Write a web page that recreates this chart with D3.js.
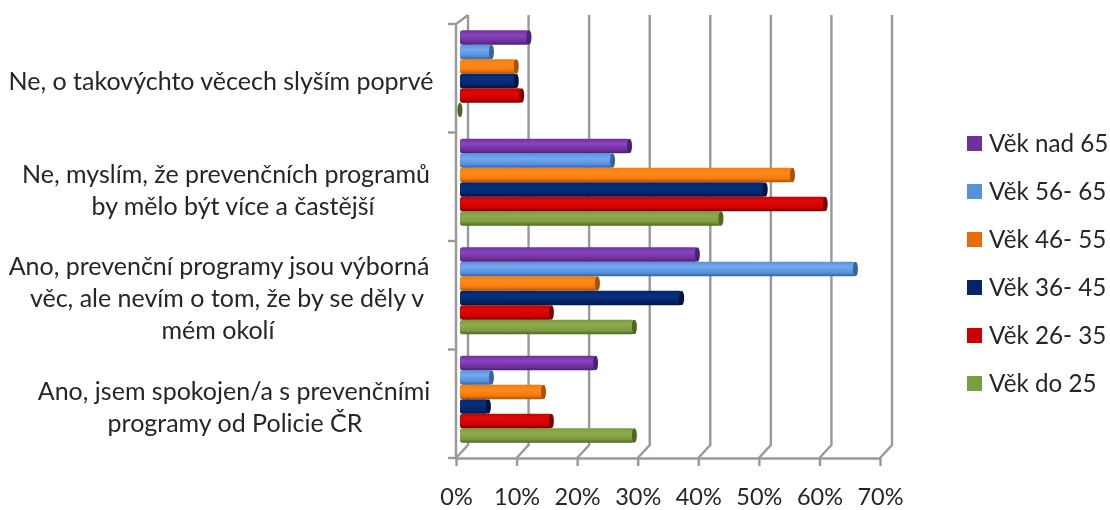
<!DOCTYPE html>
<html>
<head>
<meta charset="utf-8">
<script src="https://cdn.jsdelivr.net/npm/d3@7/dist/d3.min.js"></script>
<style>
  html, body { margin: 0; background: #fff; }
  svg { display: block; filter: blur(0.45px); }
  text { font-family: Lato, "Open Sans", sans-serif; fill: #262626; }
</style>
</head>
<body>
<svg id="chart" width="1110" height="510"></svg>
<script>
// categories, top to bottom, already broken into lines
const categories = ['q4', 'q3', 'q2', 'q1'];
const categoryLines = [
    ['Ne, o takovýchto věcech slyším poprvé'],
    ['Ne, myslím, že prevenčních programů', 'by mělo být více a častější'],
    ['Ano, prevenční programy jsou výborná', 'věc, ale nevím o tom, že by se děly v', 'mém okolí'],
    ['Ano, jsem spokojen/a s prevenčními', 'programy od Policie ČR'],
];

// series, top to bottom inside each category (values in %)
const seriesNames = ['Věk nad 65', 'Věk 56- 65', 'Věk 46- 55', 'Věk 36- 45', 'Věk 26- 35', 'Věk do 25'];
const vekNad65 = [11.8, 28.4, 39.6, 22.8];
const vek5665 = [5.6, 25.6, 65.7, 5.6];
const vek4655 = [9.7, 55.3, 23.1, 14.2];
const vek3645 = [9.7, 50.8, 37.0, 5.1];
const vek2635 = [10.6, 60.7, 15.5, 15.5];
const vekDo25 = [0.4, 43.5, 29.2, 29.2];
const seriesValues = [vekNad65, vek5665, vek4655, vek3645, vek2635, vekDo25];

const xTicks = [0, 10, 20, 30, 40, 50, 60, 70];

// barva: light, main, dark, legend
const colors = [
    ['#8a45c0', '#7030a0', '#4a2270', '#7030a0'],
    ['#74aaf0', '#5691dc', '#34659c', '#5691dc'],
    ['#ff8a1c', '#f57a0c', '#a85208', '#e96c0c'],
    ['#0a3080', '#03246b', '#011340', '#03246b'],
    ['#e00808', '#cc0000', '#7d0000', '#cc0000'],
    ['#8cac4e', '#7c9c40', '#4d6624', '#7c9c40'],
];

const width = 1110, height = 510;
const margin = { top: 24, right: 230, bottom: 52, left: 456 };
const depthX = 12, depthY = 13; // hloubka 3D steny

const svg = d3.select('#chart');
const defs = svg.append('defs');

const x = d3.scaleLinear().domain([0, 70]).range([margin.left, width - margin.right + 0]);
const y = d3.scaleBand().domain(categories).range([margin.top, height - margin.bottom]);
const yInner = d3.scaleBand().domain(d3.range(seriesNames.length)).range([0, 87]);

// gradienty pro valce
colors.forEach((c, i) => {
    const g = defs.append('linearGradient').attr('id', `cyl${i}`)
        .attr('x1', 0).attr('x2', 0).attr('y1', 0).attr('y2', 1);
    g.append('stop').attr('offset', '0%').attr('stop-color', c[1]);
    g.append('stop').attr('offset', '35%').attr('stop-color', c[0]);
    g.append('stop').attr('offset', '75%').attr('stop-color', c[1]);
    g.append('stop').attr('offset', '100%').attr('stop-color', c[2]);
});

// zadni stena a podlaha
const wall = svg.append('g').attr('fill', 'none').attr('stroke', '#999').attr('stroke-width', 2.4);
wall.selectAll('path')
    .data(xTicks)
    .join('path')
    .attr('d', (d) => {
        const x0 = x(d);
        const yb = height - margin.bottom;
        return `M${x0},${yb}L${x0 + depthX},${yb - depthY}L${x0 + depthX},${margin.top - 9}`;
    });

// levy sloupek s tiky
const boundaries = categories.map((c) => y(c)).concat(height - margin.bottom);
wall.append('path')
    .attr('d', `M${x(0)},${height - margin.bottom}L${x(0)},${margin.top}L${x(0) + depthX},${margin.top - 9}`);
wall.selectAll('line.tick')
    .data(boundaries)
    .join('line')
    .attr('class', 'tick')
    .attr('x1', x(0) - 8)
    .attr('x2', x(0))
    .attr('y1', (d) => d)
    .attr('y2', (d) => d);

// osa X
const xAxis = d3.axisBottom(x)
    .tickValues(xTicks)
    .tickFormat((d) => `${d}%`)
    .tickSize(8)
    .tickPadding(22)
    .tickSizeOuter(0);
const xg = svg.append('g')
    .attr('transform', `translate(0,${height - margin.bottom})`)
    .call(xAxis);
xg.select('.domain').attr('stroke', '#999').attr('stroke-width', 2.4);
xg.selectAll('.tick line').attr('stroke', '#999').attr('stroke-width', 2.4);
xg.selectAll('.tick text').attr('font-size', 23.5).attr('fill', '#262626');

// valce
const barOffsetX = 4, barOffsetY = -9, capRx = 2.5;
const groups = svg.selectAll('g.cat')
    .data(categories)
    .join('g')
    .attr('class', 'cat')
    .attr('transform', (d) => `translate(0,${y(d) + (y.bandwidth() - 87) / 2 + barOffsetY + 4.5})`);

seriesValues.slice().reverse().forEach((values, ri) => {
    const i = seriesNames.length - 1 - ri;
    groups.each(function (c, ci) {
        const v = values[ci];
        const g = d3.select(this).append('g');
        const x1 = x(v) + barOffsetX - capRx;
        const top = yInner(i), h = yInner.bandwidth();
        g.append('rect')
            .attr('x', x(0) + barOffsetX)
            .attr('y', top)
            .attr('width', Math.max(x1 - x(0) - barOffsetX, 0))
            .attr('height', h)
            .attr('rx', 2.5)
            .attr('fill', `url(#cyl${i})`);
        g.append('ellipse')
            .attr('cx', x1)
            .attr('cy', top + h / 2)
            .attr('rx', capRx)
            .attr('ry', h / 2)
            .attr('fill', colors[i][2]);
    });
});

// popisky kategorii
const labelCenters = [[221], [226, 233], [219, 227, 218], [234, 235]];
const lineHeight = 32;
svg.selectAll('g.label')
    .data(categories)
    .join('g')
    .attr('class', 'label')
    .each(function (c, ci) {
        const lines = categoryLines[ci];
        const yc = y(c) + y.bandwidth() / 2 + 3;
        d3.select(this).selectAll('text')
            .data(lines)
            .join('text')
            .attr('x', (d, i) => labelCenters[ci][i])
            .attr('y', (d, i) => yc + (i - (lines.length - 1) / 2) * lineHeight)
            .attr('dy', '0.35em')
            .attr('text-anchor', 'middle')
            .attr('font-size', 25)
            .text((d) => d);
    });

// legenda
const legendY = d3.scalePoint().domain(seriesNames).range([144, 384]);
const legend = svg.selectAll('g.legend')
    .data(seriesNames)
    .join('g')
    .attr('class', 'legend')
    .attr('transform', (d) => `translate(967,${legendY(d)})`);
legend.append('rect')
    .attr('y', -8).attr('width', 15).attr('height', 15)
    .attr('fill', (d, i) => colors[i][3]);
legend.append('text')
    .attr('x', 22)
    .attr('dy', '0.35em')
    .attr('font-size', 24.2)
    .text((d) => d);
</script>
</body>
</html>
